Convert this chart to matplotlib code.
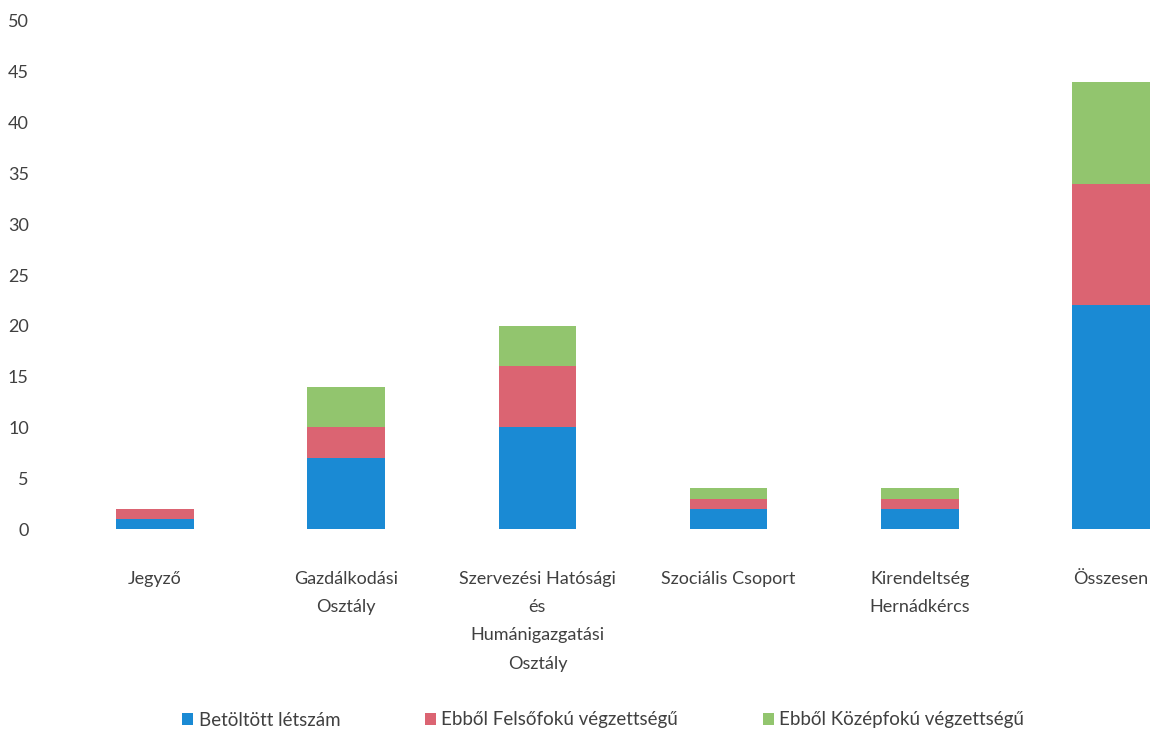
import matplotlib
matplotlib.use("Agg")
import matplotlib.pyplot as plt
import numpy as np

categories = ["Jegyző", "Gazdálkodási\nOsztály", "Szervezési Hatósági\nés\nHumánigazgatási\nOsztály",
              "Szociális Csoport", "Kirendeltség\nHernádkércs", "Összesen"]
betoltott = [1, 7, 10, 2, 2, 22]
felsofoku = [1, 3, 6, 1, 1, 12]
kozepfoku = [0, 4, 4, 1, 1, 10]
series_names = ["Betöltött létszám", "Ebből Felsőfokú végzettségű", "Ebből Középfokú végzettségű"]
yticks = [0, 5, 10, 15, 20, 25, 30, 35, 40, 45, 50]

colors = ["#1a8ad4", "#db6472", "#92c56e"]

plt.rcParams['font.family'] = ['Lato', 'DejaVu Sans']

fig = plt.figure(figsize=(11.59, 7.32), dpi=100)
W, H = 1159, 732
left = 59.4 / W
bottom = (H - 529) / H
top = (H - 21) / H
ax = fig.add_axes([left, bottom, 1 - left, top - bottom])

x = np.arange(len(categories))
w = 0.405
b1 = np.array(betoltott)
b2 = np.array(felsofoku)
b3 = np.array(kozepfoku)
ax.bar(x, b1, w, color=colors[0], label=series_names[0])
ax.bar(x, b2, w, bottom=b1, color=colors[1], label=series_names[1])
ax.bar(x, b3, w, bottom=b1 + b2, color=colors[2], label=series_names[2])

ax.set_xlim(-0.5, 5.251)
ax.set_ylim(0, 50)
ax.set_yticks(yticks)
ax.set_yticklabels([str(v) for v in yticks], fontsize=13, color="#404040")
ax.set_xticks(x)
ax.set_xticklabels(categories, fontsize=13, color="#404040", linespacing=1.95, va="top")
ax.tick_params(axis="both", length=0)
ax.tick_params(axis="x", pad=30)
ax.tick_params(axis="y", pad=22)
for s in ax.spines.values():
    s.set_visible(False)

handles, labels = ax.get_legend_handles_labels()
fig.legend(handles, labels, loc="center", bbox_to_anchor=(603 / W, (H - 720) / H),
           ncol=3, frameon=False, fontsize=13.5, handlelength=0.6, handleheight=0.6,
           handletextpad=0.3, columnspacing=4.5, labelcolor="#404040")

fig.savefig("out.png", dpi=100, facecolor="white")
